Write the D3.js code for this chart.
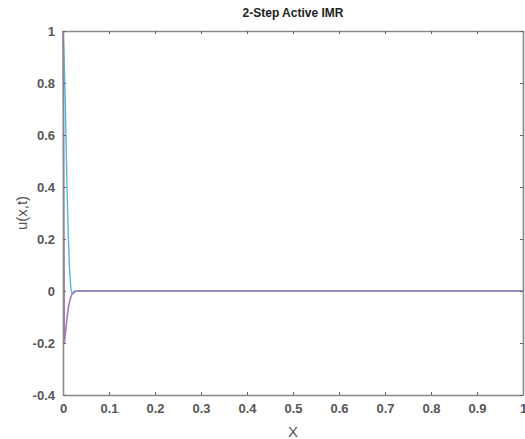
<!DOCTYPE html>
<html>
<head>
<meta charset="utf-8">
<script src="https://cdn.jsdelivr.net/npm/d3@7"></script>
<style>
  html, body { margin: 0; padding: 0; background: #fff; }
  svg { display: block; font-family: "Liberation Sans", Arial, sans-serif; }
</style>
</head>
<body>
<svg id="chart" width="525" height="439"></svg>
<script>
// Solution profiles u(x,t) for the two solvers
const uaX = [0, 0.002, 0.005, 0.008, 0.011, 0.014, 0.017, 0.020, 0.023, 0.027, 0.032, 1];
const uaY = [1, 0.92, 0.72, 0.46, 0.24, 0.09, 0.01, -0.012, -0.008, -0.002, 0, 0];
const ubX = [0, 0.003, 0.006, 0.009, 0.012, 0.015, 0.018, 0.022, 0.026, 1];
const ubY = [1, -0.2, -0.15, -0.1, -0.06, -0.035, -0.018, -0.006, 0, 0];

const xTicks = [0, 0.1, 0.2, 0.3, 0.4, 0.5, 0.6, 0.7, 0.8, 0.9, 1];
const yTicks = [-0.4, -0.2, 0, 0.2, 0.4, 0.6, 0.8, 1];

const titleText = "2-Step Active IMR";
const xLabel = "X";
const yLabel = "u(x,t)";

const svg = d3.select("#chart");
const m = { left: 63, right: 523, top: 31, bottom: 395 };

const x = d3.scaleLinear().domain([0, 1]).range([m.left, m.right]);
const y = d3.scaleLinear().domain([-0.4, 1]).range([m.bottom, m.top]);

const axisColor = "#8a8a8a";
const textColor = "#555";
const fmt = d => String(Math.round(d * 10) / 10);

// Plot lines (second solver drawn on top)
const line = d3.line().x(d => x(d[0])).y(d => y(d[1]));
const plotArea = svg.append("g");
plotArea.append("path")
  .datum(uaX.map((v, i) => [v, uaY[i]]))
  .attr("d", line)
  .attr("fill", "none")
  .attr("stroke", "#4db8ec")
  .attr("stroke-width", 1.4);
plotArea.append("path")
  .datum(ubX.map((v, i) => [v, ubY[i]]))
  .attr("d", line)
  .attr("fill", "none")
  .attr("stroke", "#a67bbd")
  .attr("stroke-width", 1.6);

// Axes with inward ticks on all four sides
function styleAxis(g) {
  g.select(".domain").attr("stroke", axisColor).attr("stroke-width", 1.6);
  g.selectAll(".tick line").attr("stroke", "#666").attr("stroke-width", 1);
  g.selectAll(".tick text").attr("fill", textColor).attr("font-size", 13).attr("font-weight", "bold");
}

svg.append("g")
  .attr("transform", `translate(0,${m.bottom})`)
  .call(d3.axisBottom(x).tickValues(xTicks).tickSize(-3).tickSizeOuter(0).tickPadding(9).tickFormat(fmt))
  .call(styleAxis);

svg.append("g")
  .attr("transform", `translate(0,${m.top})`)
  .call(d3.axisTop(x).tickValues(xTicks).tickSize(-3).tickSizeOuter(0).tickFormat(""))
  .call(styleAxis);

svg.append("g")
  .attr("transform", `translate(${m.left},0)`)
  .call(d3.axisLeft(y).tickValues(yTicks).tickSize(-3).tickSizeOuter(0).tickPadding(8).tickFormat(fmt))
  .call(styleAxis);

svg.append("g")
  .attr("transform", `translate(${m.right},0)`)
  .call(d3.axisRight(y).tickValues(yTicks).tickSize(-3).tickSizeOuter(0).tickFormat(""))
  .call(styleAxis);

// Title and axis labels
svg.append("text")
  .attr("x", (m.left + m.right) / 2)
  .attr("y", 17)
  .attr("text-anchor", "middle")
  .attr("font-size", 12)
  .attr("font-weight", "bold")
  .attr("fill", "#222")
  .text(titleText);

svg.append("text")
  .attr("x", (m.left + m.right) / 2)
  .attr("y", 437)
  .attr("text-anchor", "middle")
  .attr("font-size", 15)
  .attr("fill", textColor)
  .text(xLabel);

svg.append("text")
  .attr("transform", `translate(27,${(m.top + m.bottom) / 2}) rotate(-90)`)
  .attr("text-anchor", "middle")
  .attr("font-size", 15)
  .attr("fill", textColor)
  .text(yLabel);
</script>
</body>
</html>
